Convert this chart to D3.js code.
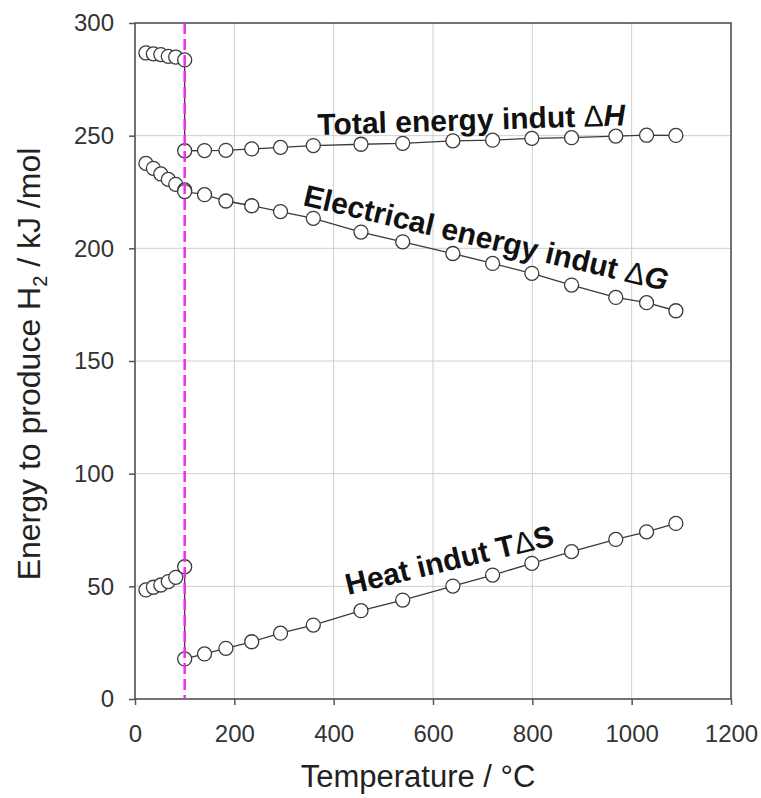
<!DOCTYPE html>
<html>
<head>
<meta charset="utf-8">
<script src="https://cdn.jsdelivr.net/npm/d3@7"></script>
<style>
  body { margin: 0; background: #fff; }
  text { font-family: "Liberation Sans", Arial, sans-serif; }
</style>
</head>
<body>
<script>
(function(){

// temperatures (°C)
var liquidTemps = [22, 37, 52, 67, 82, 100];
var gasTemps = [100, 140, 183, 235, 293, 359, 455, 539, 640, 720, 799, 879, 968, 1030, 1089];

// energy values (kJ/mol)
var dHLiquid = [286.7, 286.3, 286.0, 285.2, 284.9, 283.6];
var dHGas = [243.3, 243.4, 243.5, 244.1, 244.8, 245.6, 246.2, 246.6, 247.7, 248.0, 248.8, 249.1, 249.8, 250.2, 250.1];
var dGLiquid = [237.7, 235.5, 233.0, 230.6, 228.4, 225.9];
var dGGas = [225.2, 223.8, 221.0, 218.9, 216.3, 213.3, 207.2, 202.9, 197.7, 193.3, 188.9, 183.7, 178.2, 175.9, 172.3];
var tdsLiquid = [48.4, 49.6, 50.6, 52.1, 54.0, 58.7];
var tdsGas = [17.8, 20.0, 22.5, 25.4, 29.2, 32.8, 39.2, 43.9, 50.1, 55.0, 60.2, 65.4, 70.8, 74.2, 77.9];

var xTicks = [0, 200, 400, 600, 800, 1000, 1200];
var yTicks = [0, 50, 100, 150, 200, 250, 300];
var boilingPoint = 100;

// label text and anchor (temperature, energy, angle)
var labelParts = [
    [["Total energy indut ", "bold", "normal"], ["\u0394", "normal", "normal"], ["H", "bold", "italic"]],
    [["Electrical energy indut ", "bold", "normal"], ["\u0394", "normal", "normal"], ["G", "bold", "italic"]],
    [["Heat indut T", "bold", "normal"], ["\u0394", "normal", "normal"], ["S", "bold", "normal"]]
];
var labelT = [368, 336, 429];
var labelE = [250.3, 219.2, 46.2];
var labelAngle = [-1.8, 13.3, -13.5];

var width = 761, height = 798;
var margin = {top: 23, right: 30, bottom: 99, left: 135};
var innerW = width - margin.left - margin.right,
    innerH = height - margin.top - margin.bottom;

var svg = d3.select("body").append("svg")
    .attr("width", width)
    .attr("height", height);

var g = svg.append("g")
    .attr("transform", "translate(" + margin.left + "," + margin.top + ")");

var x = d3.scaleLinear().domain([0, 1200]).range([0, innerW]);
var y = d3.scaleLinear().domain([0, 300]).range([innerH, 0]);

// grid
g.selectAll(".vgrid").data(xTicks).enter().append("line")
    .attr("x1", d => x(d)).attr("x2", d => x(d))
    .attr("y1", 0).attr("y2", innerH)
    .style("stroke", "#cfcfcf").style("stroke-width", 1);
g.selectAll(".hgrid").data(yTicks).enter().append("line")
    .attr("x1", 0).attr("x2", innerW)
    .attr("y1", d => y(d)).attr("y2", d => y(d))
    .style("stroke", "#cfcfcf").style("stroke-width", 1);

// axes
var xAxis = g.append("g")
    .attr("transform", "translate(0," + innerH + ")")
    .call(d3.axisBottom(x).tickValues(xTicks).tickSize(6).tickPadding(20).tickFormat(d3.format("d")));
var yAxis = g.append("g")
    .call(d3.axisLeft(y).tickValues(yTicks).tickSize(6).tickPadding(15).tickFormat(d3.format("d")));

[xAxis, yAxis].forEach(function(ax){
    ax.select(".domain").remove();
    ax.selectAll("line").style("stroke", "#555").style("stroke-width", 1.5);
    ax.selectAll("text")
        .style("font-size", "24px")
        .style("fill", "#333")
        .style("font-family", "'Liberation Sans', Arial, sans-serif");
});
xAxis.selectAll("text").attr("dy", "0.71em");

// frame
g.append("rect")
    .attr("x", 0).attr("y", 0)
    .attr("width", innerW).attr("height", innerH)
    .style("fill", "none").style("stroke", "#555").style("stroke-width", 1.6);

// series
function toPoints(temps, vals){
    return temps.map((t, i) => [t, vals[i]]);
}
var series = [
    toPoints(liquidTemps, dHLiquid).concat(toPoints(gasTemps, dHGas)),
    toPoints(liquidTemps, dGLiquid).concat(toPoints(gasTemps, dGGas)),
    toPoints(liquidTemps, tdsLiquid).concat(toPoints(gasTemps, tdsGas))
];

var line = d3.line().x(d => x(d[0])).y(d => y(d[1]));

series.forEach(function(pts){
    g.append("path")
        .datum(pts)
        .attr("d", line)
        .style("fill", "none")
        .style("stroke", "#3a3a3a")
        .style("stroke-width", 1.3);

    g.selectAll(null).data(pts).enter().append("circle")
        .attr("cx", d => x(d[0]))
        .attr("cy", d => y(d[1]))
        .attr("r", 7)
        .style("fill", "#fff")
        .style("stroke", "#3a3a3a")
        .style("stroke-width", 1.3);
});

// boiling point marker
g.append("line")
    .attr("x1", x(boilingPoint)).attr("x2", x(boilingPoint))
    .attr("y1", 0).attr("y2", innerH)
    .style("stroke", "#f02cf0")
    .style("stroke-width", 2.5)
    .style("stroke-dasharray", "11,5");

// curve labels
labelParts.forEach(function(parts, i){
    var t = g.append("text")
        .attr("transform", "translate(" + x(labelT[i]) + "," + y(labelE[i]) + ") rotate(" + labelAngle[i] + ")")
        .style("font-size", "30px")
        .style("fill", "#111");
    parts.forEach(function(p){
        t.append("tspan")
            .text(p[0])
            .style("font-weight", p[1])
            .style("font-style", p[2]);
    });
});

// axis titles
svg.append("text")
    .attr("x", margin.left + innerW / 2 - 15)
    .attr("y", 787)
    .attr("text-anchor", "middle")
    .style("font-size", "31px")
    .style("fill", "#222")
    .text("Temperature / \u00b0C");

var yt = svg.append("text")
    .attr("transform", "translate(40," + (margin.top + innerH / 2 + 3) + ") rotate(-90)")
    .attr("text-anchor", "middle")
    .style("font-size", "32px")
    .style("fill", "#222");
yt.append("tspan").text("Energy to produce H");
yt.append("tspan").text("2").style("font-size", "20px").attr("dy", 7);
yt.append("tspan").text(" / kJ /mol").attr("dy", -7);

})();
</script>
</body>
</html>
